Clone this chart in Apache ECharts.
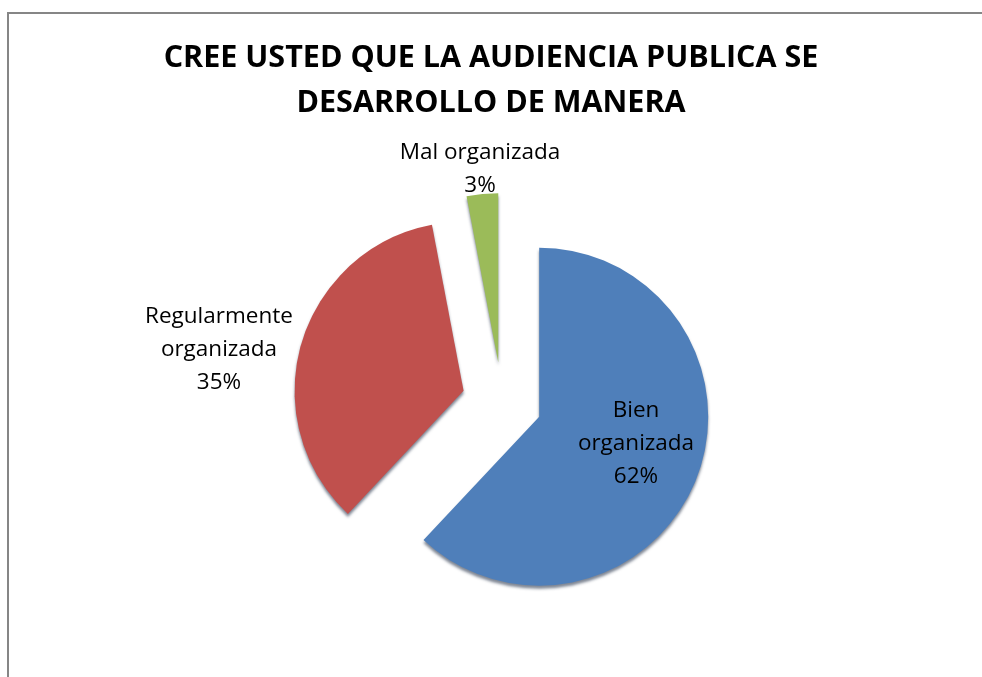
<!DOCTYPE html>
<html>
<head>
<meta charset="utf-8">
<script src="https://cdn.jsdelivr.net/npm/echarts@6/dist/echarts.min.js"></script>
<style>
  html, body { margin: 0; padding: 0; background: #fff; }
  #main { width: 982px; height: 677px; }
</style>
</head>
<body>
<div id="main"></div>
<script>
// data
const categories = ['Bien\norganizada', 'Regularmente\norganizada', 'Mal organizada'];
const values = [62, 35, 3];
const colors = ['#4F7FBA', '#C0504D', '#9BBB59'];
const titleLines = ['CREE USTED QUE LA AUDIENCIA PUBLICA SE', 'DESARROLLO DE MANERA'];

// centre of each slice's label block (labels are placed by hand, like the original)
const labelSpots = [[636, 444], [219, 350], [480, 169]];

const chart = echarts.init(document.getElementById('main'), null, { renderer: 'canvas' });

const labelFont = { fontFamily: 'Open Sans', fontSize: 22.5, lineHeight: 33, fill: '#000' };

const frame = {
  type: 'rect',
  shape: { x: 8, y: 13, width: 1000, height: 700 },
  style: { fill: 'none', stroke: '#868686', lineWidth: 2 },
  silent: true
};

const labels = categories.map((c, i) => ({
  type: 'text',
  x: labelSpots[i][0],
  y: labelSpots[i][1],
  z: 10,
  silent: true,
  style: Object.assign({
    text: c + '\n' + values[i] + '%',
    textAlign: 'center',
    textVerticalAlign: 'middle'
  }, labelFont)
}));

const option = {
  animation: false,
  backgroundColor: '#fff',
  title: {
    text: titleLines.join('\n'),
    left: 'center',
    top: 31,
    textStyle: {
      fontFamily: 'Open Sans',
      fontWeight: 'bold',
      fontSize: 30.5,
      lineHeight: 45,
      color: '#000'
    }
  },
  graphic: [frame].concat(labels),
  series: [{
    type: 'pie',
    center: [502, 402],
    radius: [0, 169],
    startAngle: 90,
    clockwise: true,
    selectedMode: 'multiple',
    selectedOffset: 40,
    itemStyle: {
      shadowColor: 'rgba(20,35,60,0.55)',
      shadowBlur: 3,
      shadowOffsetY: 3
    },
    emphasis: { disabled: true },
    label: { show: false },
    labelLine: { show: false },
    data: categories.map((c, i) => ({
      name: c,
      value: values[i],
      selected: true,
      itemStyle: { color: colors[i] }
    }))
  }]
};

chart.setOption(option);
</script>
</body>
</html>
